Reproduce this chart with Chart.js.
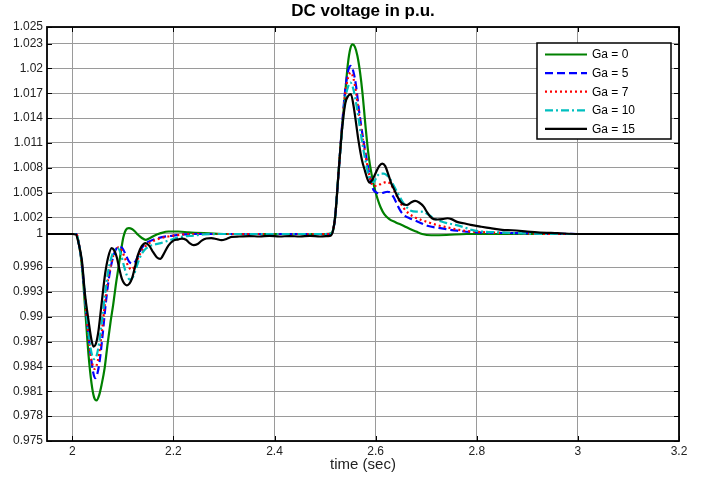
<!DOCTYPE html>
<html>
<head>
<meta charset="utf-8">
<script src="https://cdn.jsdelivr.net/npm/chart.js@4/dist/chart.umd.min.js"></script>
<style>
  html, body { margin: 0; padding: 0; background: #ffffff; }
  #wrap { width: 710px; height: 477px; }
</style>
</head>
<body>
<div id="wrap"><canvas id="c" width="710" height="477"></canvas></div>
<script>
// ---- Data (time in s, DC voltage in p.u.) ----
const seriesNames = ['Ga = 0', 'Ga = 5', 'Ga = 7', 'Ga = 10', 'Ga = 15'];

const ga0Points = [[1.95,1.0],[2.0,1.0],[2.008,1.0],[2.014,0.9985],[2.02,0.9955],[2.026,0.9905],[2.032,0.9855],[2.038,0.982],[2.043,0.9803],[2.048,0.9799],[2.053,0.9805],[2.058,0.9818],[2.064,0.9838],[2.07,0.9868],[2.076,0.9895],[2.081,0.9915],[2.086,0.9938],[2.091,0.9958],[2.096,0.9978],[2.101,0.9996],[2.106,1.0005],[2.112,1.0007],[2.118,1.0006],[2.124,1.0003],[2.13,0.9999],[2.137,0.99955],[2.145,0.9993],[2.153,0.9995],[2.162,0.9998],[2.175,1.0001],[2.19,1.0003],[2.21,1.0003],[2.23,1.0002],[2.26,1.0001],[2.3,1.0],[2.4,1.0],[2.5,1.0],[2.513,1.0001],[2.516,1.0005],[2.52,1.0021],[2.527,1.0077],[2.5335,1.0128],[2.54,1.0172],[2.545,1.0205],[2.55,1.0224],[2.5545,1.0229],[2.559,1.0226],[2.564,1.0215],[2.569,1.0196],[2.574,1.017],[2.58,1.013],[2.586,1.0095],[2.592,1.0072],[2.598,1.0055],[2.604,1.0042],[2.61,1.0032],[2.617,1.0024],[2.627,1.0018],[2.64,1.0014],[2.655,1.001],[2.668,1.0006],[2.68,1.0003],[2.692,1.0],[2.71,0.99985],[2.74,0.99988],[2.78,1.0],[3.2,1.0]];

const ga5Points = [[1.95,1.0],[2.0,1.0],[2.008,1.0],[2.013,0.9988],[2.019,0.9964],[2.025,0.9925],[2.031,0.9885],[2.037,0.9851],[2.041,0.9834],[2.045,0.9826],[2.049,0.983],[2.054,0.9846],[2.06,0.9878],[2.066,0.9915],[2.072,0.9945],[2.079,0.9968],[2.086,0.9981],[2.093,0.9985],[2.099,0.9983],[2.105,0.9976],[2.112,0.9967],[2.119,0.9964],[2.126,0.9968],[2.133,0.9978],[2.141,0.9986],[2.15,0.99905],[2.16,0.9993],[2.17,0.9995],[2.18,0.99965],[2.2,0.9998],[2.22,0.99995],[2.25,1.0],[2.5,1.0],[2.512,1.0],[2.516,1.0005],[2.52,1.0021],[2.527,1.0077],[2.5335,1.013],[2.54,1.0175],[2.546,1.0198],[2.551,1.0203],[2.556,1.0196],[2.561,1.018],[2.567,1.015],[2.573,1.0124],[2.58,1.0098],[2.586,1.0077],[2.591,1.0062],[2.596,1.0053],[2.602,1.005],[2.609,1.0049],[2.616,1.005],[2.623,1.0051],[2.629,1.005],[2.636,1.0044],[2.643,1.0035],[2.65,1.0027],[2.658,1.0022],[2.667,1.0019],[2.675,1.0017],[2.69,1.0013],[2.702,1.001],[2.728,1.0007],[2.761,1.0004],[2.8,1.0002],[2.9,1.0001],[3.0,1.0],[3.2,1.0]];

const ga7Points = [[1.95,1.0],[2.0,1.0],[2.008,1.0],[2.013,0.9988],[2.019,0.9964],[2.025,0.9924],[2.031,0.9884],[2.036,0.9855],[2.04,0.9842],[2.044,0.9837],[2.048,0.9841],[2.053,0.9855],[2.059,0.9885],[2.065,0.9918],[2.071,0.9946],[2.078,0.9967],[2.085,0.998],[2.092,0.9984],[2.098,0.998],[2.104,0.9971],[2.111,0.9961],[2.117,0.9957],[2.124,0.9962],[2.131,0.9972],[2.139,0.9981],[2.148,0.9987],[2.158,0.9991],[2.17,0.9994],[2.185,0.99965],[2.2,0.9998],[2.22,0.99995],[2.25,1.0],[2.5,1.0],[2.512,1.0],[2.516,1.0005],[2.52,1.0021],[2.527,1.0077],[2.5335,1.0128],[2.54,1.017],[2.546,1.019],[2.551,1.0195],[2.556,1.0188],[2.561,1.0172],[2.567,1.0145],[2.573,1.012],[2.58,1.0095],[2.586,1.0075],[2.591,1.0063],[2.596,1.0058],[2.602,1.0058],[2.609,1.006],[2.616,1.0062],[2.623,1.0063],[2.63,1.006],[2.637,1.0052],[2.645,1.0042],[2.656,1.0031],[2.665,1.0025],[2.675,1.0021],[2.69,1.0017],[2.702,1.00146],[2.72,1.0011],[2.742,1.0008],[2.765,1.0005],[2.79,1.0003],[2.82,1.0002],[2.87,1.0001],[2.95,1.0],[3.2,1.0]];

const ga10Points = [[1.95,1.0],[2.0,1.0],[2.008,1.0],[2.013,0.9988],[2.019,0.9965],[2.025,0.9926],[2.031,0.9888],[2.036,0.9863],[2.04,0.9852],[2.044,0.9849],[2.048,0.9853],[2.053,0.9868],[2.059,0.9897],[2.065,0.9928],[2.071,0.9955],[2.078,0.9973],[2.084,0.9981],[2.09,0.9983],[2.096,0.9976],[2.102,0.9962],[2.108,0.995],[2.114,0.9945],[2.12,0.9948],[2.127,0.996],[2.134,0.9972],[2.142,0.998],[2.152,0.9985],[2.162,0.9987],[2.175,0.9989],[2.19,0.9992],[2.205,0.9995],[2.22,0.9997],[2.24,0.9998],[2.26,0.99995],[2.3,1.0],[2.5,1.0],[2.512,1.0],[2.516,1.0005],[2.52,1.0021],[2.527,1.0077],[2.5335,1.0125],[2.54,1.0163],[2.546,1.0179],[2.55,1.0183],[2.555,1.0177],[2.56,1.0163],[2.566,1.014],[2.573,1.0112],[2.58,1.0088],[2.586,1.0071],[2.591,1.0063],[2.596,1.0063],[2.603,1.007],[2.609,1.0073],[2.616,1.0073],[2.622,1.0071],[2.629,1.0066],[2.637,1.0057],[2.645,1.0048],[2.653,1.0039],[2.662,1.0032],[2.67,1.0028],[2.68,1.0027],[2.69,1.0027],[2.7,1.0025],[2.715,1.0019],[2.73,1.0015],[2.742,1.0013],[2.758,1.0011],[2.775,1.0008],[2.79,1.0005],[2.81,1.0003],[2.84,1.0002],[2.88,1.0001],[2.95,1.0],[3.2,1.0]];

const ga15Points = [[1.95,1.0],[2.0,1.0],[2.007,0.99995],[2.012,0.999],[2.019,0.9968],[2.025,0.9928],[2.032,0.9896],[2.038,0.9872],[2.042,0.9864],[2.047,0.9868],[2.052,0.9884],[2.058,0.9916],[2.065,0.9952],[2.071,0.9972],[2.078,0.9983],[2.083,0.998],[2.088,0.9972],[2.093,0.9958],[2.098,0.9946],[2.103,0.994],[2.108,0.9938],[2.113,0.994],[2.118,0.9946],[2.124,0.996],[2.13,0.9975],[2.137,0.9985],[2.145,0.9989],[2.152,0.9986],[2.16,0.9978],[2.167,0.9972],[2.174,0.997],[2.181,0.9976],[2.19,0.9986],[2.2,0.9992],[2.21,0.99935],[2.217,0.99945],[2.225,0.9993],[2.232,0.9989],[2.24,0.99865],[2.248,0.9988],[2.256,0.9992],[2.265,0.99945],[2.275,0.9995],[2.285,0.9994],[2.295,0.99925],[2.305,0.9994],[2.315,0.99965],[2.33,0.9997],[2.35,0.99975],[2.37,0.9997],[2.39,0.99978],[2.41,0.9997],[2.43,0.99975],[2.45,0.9997],[2.47,0.99978],[2.49,0.9997],[2.505,0.99975],[2.512,0.99985],[2.516,1.0005],[2.52,1.0021],[2.527,1.0077],[2.5335,1.0126],[2.54,1.0158],[2.546,1.0167],[2.551,1.0169],[2.5565,1.0154],[2.561,1.0135],[2.566,1.0113],[2.573,1.0089],[2.579,1.0076],[2.584,1.0066],[2.588,1.0062],[2.594,1.0066],[2.601,1.0075],[2.607,1.0082],[2.613,1.0085],[2.619,1.0082],[2.625,1.0072],[2.631,1.0061],[2.638,1.0052],[2.645,1.0043],[2.652,1.0037],[2.662,1.0035],[2.67,1.0038],[2.678,1.004],[2.686,1.0038],[2.695,1.0033],[2.702,1.0026],[2.708,1.0021],[2.715,1.0018],[2.722,1.00175],[2.732,1.0018],[2.742,1.0019],[2.75,1.0018],[2.761,1.00146],[2.774,1.0013],[2.788,1.0011],[2.807,1.0009],[2.827,1.0007],[2.85,1.0005],[2.87,1.00045],[2.9,1.0003],[2.92,1.0002],[2.96,1.0001],[3.0,1.0],[3.2,1.0]];

const xTickValues = [2, 2.2, 2.4, 2.6, 2.8, 3, 3.2];
const xTickLabels = ['2', '2.2', '2.4', '2.6', '2.8', '3', '3.2'];
const yTickValues = [0.975, 0.978, 0.981, 0.984, 0.987, 0.99, 0.993, 0.996, 1, 1.002, 1.005, 1.008, 1.011, 1.014, 1.017, 1.02, 1.023, 1.025];
const yTickLabels = ['0.975', '0.978', '0.981', '0.984', '0.987', '0.99', '0.993', '0.996', '1', '1.002', '1.005', '1.008', '1.011', '1.014', '1.017', '1.02', '1.023', '1.025'];

// ---- Styles ----
const FONT = "'Liberation Sans', Arial, Helvetica, sans-serif";
const styles = [
  { color: '#008000', dash: [] },
  { color: '#0000ff', dash: [8, 4] },
  { color: '#ff0000', dash: [2, 3] },
  { color: '#00bfbf', dash: [8, 3, 2, 3] },
  { color: '#000000', dash: [] }
];
const allPoints = [ga0Points, ga5Points, ga7Points, ga10Points, ga15Points];

const datasets = allPoints.map((pts, i) => ({
  label: seriesNames[i],
  data: pts.map(p => ({ x: p[0], y: p[1] })),
  borderColor: styles[i].color,
  borderDash: styles[i].dash,
  borderWidth: 2.2,
  pointRadius: 0,
  fill: false,
  cubicInterpolationMode: 'monotone',
  order: 5 - i
}));

const framePlugin = {
  id: 'frame',
  afterDraw(chart) {
    const { ctx, chartArea: a, scales } = chart;
    ctx.save();
    // inward tick marks
    ctx.strokeStyle = '#000';
    ctx.lineWidth = 1;
    ctx.beginPath();
    xTickValues.forEach(v => {
      const x = Math.round(scales.x.getPixelForValue(v)) + 0.5;
      ctx.moveTo(x, a.bottom); ctx.lineTo(x, a.bottom - 5);
      ctx.moveTo(x, a.top); ctx.lineTo(x, a.top + 5);
    });
    yTickValues.forEach(v => {
      const y = Math.round(scales.y.getPixelForValue(v)) + 0.5;
      ctx.moveTo(a.left, y); ctx.lineTo(a.left + 5, y);
      ctx.moveTo(a.right, y); ctx.lineTo(a.right - 5, y);
    });
    ctx.stroke();
    // box
    ctx.lineWidth = 1.8;
    ctx.strokeRect(a.left, a.top, a.right - a.left, a.bottom - a.top);

    // legend
    const bx = 537, by = 43, bw = 134, bh = 96;
    ctx.fillStyle = '#fff';
    ctx.fillRect(bx, by, bw, bh);
    ctx.lineWidth = 1.5;
    ctx.strokeStyle = '#000';
    ctx.setLineDash([]);
    ctx.strokeRect(bx, by, bw, bh);
    ctx.font = '12px ' + FONT;
    ctx.textBaseline = 'middle';
    ctx.textAlign = 'left';
    chart.data.datasets.forEach((ds, i) => {
      const y = by + 11.5 + i * 18.6;
      ctx.beginPath();
      ctx.strokeStyle = ds.borderColor;
      ctx.lineWidth = 2.2;
      ctx.setLineDash(ds.borderDash);
      ctx.moveTo(545, y); ctx.lineTo(587, y);
      ctx.stroke();
      ctx.setLineDash([]);
      ctx.fillStyle = '#000';
      ctx.fillText(ds.label, 592, y + 0.5);
    });
    ctx.restore();
  }
};

new Chart(document.getElementById('c'), {
  type: 'line',
  data: { datasets },
  options: {
    responsive: false,
    animation: false,
    devicePixelRatio: 1,
    layout: { padding: { left: 0, right: 31, top: 0, bottom: 0 } },
    plugins: {
      legend: { display: false },
      tooltip: { enabled: false },
      title: {
        display: true,
        text: 'DC voltage in p.u.',
        fullSize: false,
        color: '#000',
        font: { family: FONT, size: 17, weight: 'bold' },
        padding: { top: 1, bottom: 5.6 }
      }
    },
    scales: {
      x: {
        type: 'linear',
        min: 1.95,
        max: 3.2,
        afterBuildTicks: s => { s.ticks = xTickValues.map(v => ({ value: v })); },
        afterFit: s => { s.height = 36; },
        ticks: {
          autoSkip: false,
          maxRotation: 0,
          padding: 3,
          color: '#222',
          font: { family: FONT, size: 12 },
          callback: (v, i) => xTickLabels[i]
        },
        grid: { color: '#9a9a9a', lineWidth: 1, drawTicks: false },
        border: { display: false },
        title: {
          display: true,
          text: 'time (sec)',
          color: '#222',
          font: { family: FONT, size: 15 },
          padding: { top: 0, bottom: 3 }
        }
      },
      y: {
        type: 'linear',
        min: 0.975,
        max: 1.025,
        afterBuildTicks: s => { s.ticks = yTickValues.map(v => ({ value: v })); },
        afterFit: s => { s.width = 47; },
        ticks: {
          autoSkip: false,
          padding: 4,
          color: '#222',
          font: { family: FONT, size: 12 },
          callback: (v, i) => yTickLabels[i]
        },
        grid: { color: '#9a9a9a', lineWidth: 1, drawTicks: false },
        border: { display: false }
      }
    }
  },
  plugins: [framePlugin]
});
</script>
</body>
</html>
